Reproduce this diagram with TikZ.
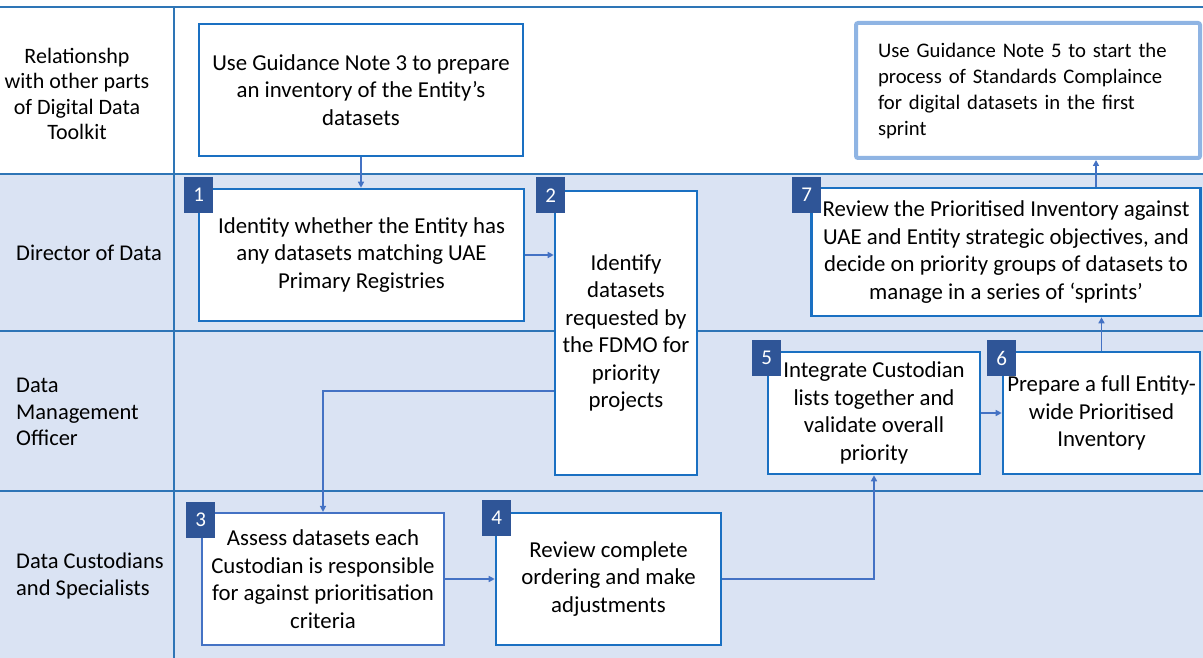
\documentclass[tikz,border=0pt]{standalone}
\usepackage{fontspec}
\setmainfont{Carlito}
\usetikzlibrary{arrows.meta}
\definecolor{lanefill}{HTML}{DAE3F3}
\definecolor{rulecol}{HTML}{2E75B6}
\definecolor{boxline}{HTML}{1A70C2}
\definecolor{linkcol}{HTML}{4472C4}
\definecolor{badgecol}{HTML}{2F5597}
\definecolor{softline}{HTML}{8FB4E3}
\begin{document}
\begin{tikzpicture}[x=1pt,y=-1pt,
  stepbox/.style={draw=boxline, line width=2.6pt, fill=white, align=center,
    inner sep=0pt, font=\fontsize{22.8}{27.5}\selectfont},
  badge/.style={fill=badgecol, text=white, minimum width=29pt, minimum height=36pt,
    inner sep=0pt, anchor=north west, font=\fontsize{21}{24}\selectfont},
  link/.style={draw=linkcol, line width=1.6pt, -{Triangle[length=6pt,width=6pt]}},
  lanelabel/.style={align=left, anchor=west, inner sep=0pt,
    font=\fontsize{22.5}{26.5}\selectfont}]
\useasboundingbox (0,0) rectangle (1203,658);

% swimlanes
\fill[white] (0,0) rectangle (1203,658);
\fill[lanefill] (0,174) rectangle (1203,658);
\foreach \yy in {7,174,331,491} \draw[rulecol, line width=1.2pt] (0,\yy) -- (1203,\yy);
\draw[rulecol, line width=1.2pt] (174,7) -- (174,658);

% lane titles
\node[align=center, inner sep=0pt, font=\fontsize{22}{25.5}\selectfont] (lt0) at (77,94)
  {Relationshp\\with other parts\\of Digital Data\\Toolkit};
\node[lanelabel] (lt1) at (16,253) {Director of Data};
\node[lanelabel] (lt2) at (16,412) {Data\\Management\\Officer};
\node[lanelabel] (lt3) at (16,576) {Data Custodians\\and Specialists};

% process boxes
\node[stepbox, minimum width=324pt, minimum height=132pt] (g3) at (361,90)
  {Use Guidance Note 3 to prepare\\an inventory of the Entity’s\\datasets};
\node[draw=softline, line width=4pt, rounded corners=2pt, fill=white, inner sep=0pt,
  minimum width=344pt, minimum height=135pt, text width=300pt, align=left,
  font=\fontsize{20.7}{26}\selectfont] (g5) at (1028,90.5)
  {Use Guidance Note 5 to start the\\process of Standards Complaince\\for digital datasets in the first\\sprint};
\draw[boxline, line width=1.4pt] ([xshift=1.5pt,yshift=-2pt]g5.north east) -- ([xshift=1.5pt,yshift=2pt]g5.south east);

\node[stepbox, minimum width=325pt, minimum height=132pt] (b1) at (361.5,255)
  {Identity whether the Entity has\\any datasets matching UAE\\Primary Registries};
\node[stepbox, minimum width=142pt, minimum height=284pt] (b2) at (626,333)
  {Identify\\datasets\\requested by\\the FDMO for\\priority\\projects};
\node[stepbox, minimum width=389pt, minimum height=128pt] (b7) at (1006,252)
  {Review the Prioritised Inventory against\\UAE and Entity strategic objectives, and\\decide on priority groups of datasets to\\manage in a series of ‘sprints’};
\node[stepbox, minimum width=212pt, minimum height=122pt] (b5) at (874,413)
  {Integrate Custodian\\lists together and\\validate overall\\priority};
\node[stepbox, minimum width=197pt, minimum height=122pt] (b6) at (1101.5,413)
  {Prepare a full Entity-\\wide Prioritised\\Inventory};
\node[stepbox, draw=linkcol, line width=2.2pt, minimum width=242pt, minimum height=132pt] (b3) at (323,579)
  {Assess datasets each\\Custodian is responsible\\for against prioritisation\\criteria};
\node[stepbox, minimum width=225pt, minimum height=132pt] (b4) at (608.5,579)
  {Review complete\\ordering and make\\adjustments};

% step numbers
\node[badge] (n1) at (184,177) {1};
\node[badge] (n2) at (536,177) {2};
\node[badge] (n7) at (792,177) {7};
\node[badge] (n5) at (752,340) {5};
\node[badge] (n6) at (987,340) {6};
\node[badge] (n3) at (186,502) {3};
\node[badge] (n4) at (482,500) {4};

% connectors
\coordinate (k23) at (0,391);
\coordinate (up7) at ([xshift=90pt]b7.north);
\draw[link] (g3.south) -- (g3.south |- b1.north);
\draw[link] (b1.east) -- (b2.west |- b1.east);
\draw[link] (b2.west |- k23) -| (b3.north);
\draw[link] (b3.east) -- (b4.west);
\draw[link] (b4.east) -| (b5.south);
\draw[link] (b5.east) -- (b6.west);
\draw[link] (b6.north) -- (b6.north |- b7.south);
\draw[link] (up7) -- (up7 |- g5.south);
\end{tikzpicture}
\end{document}
